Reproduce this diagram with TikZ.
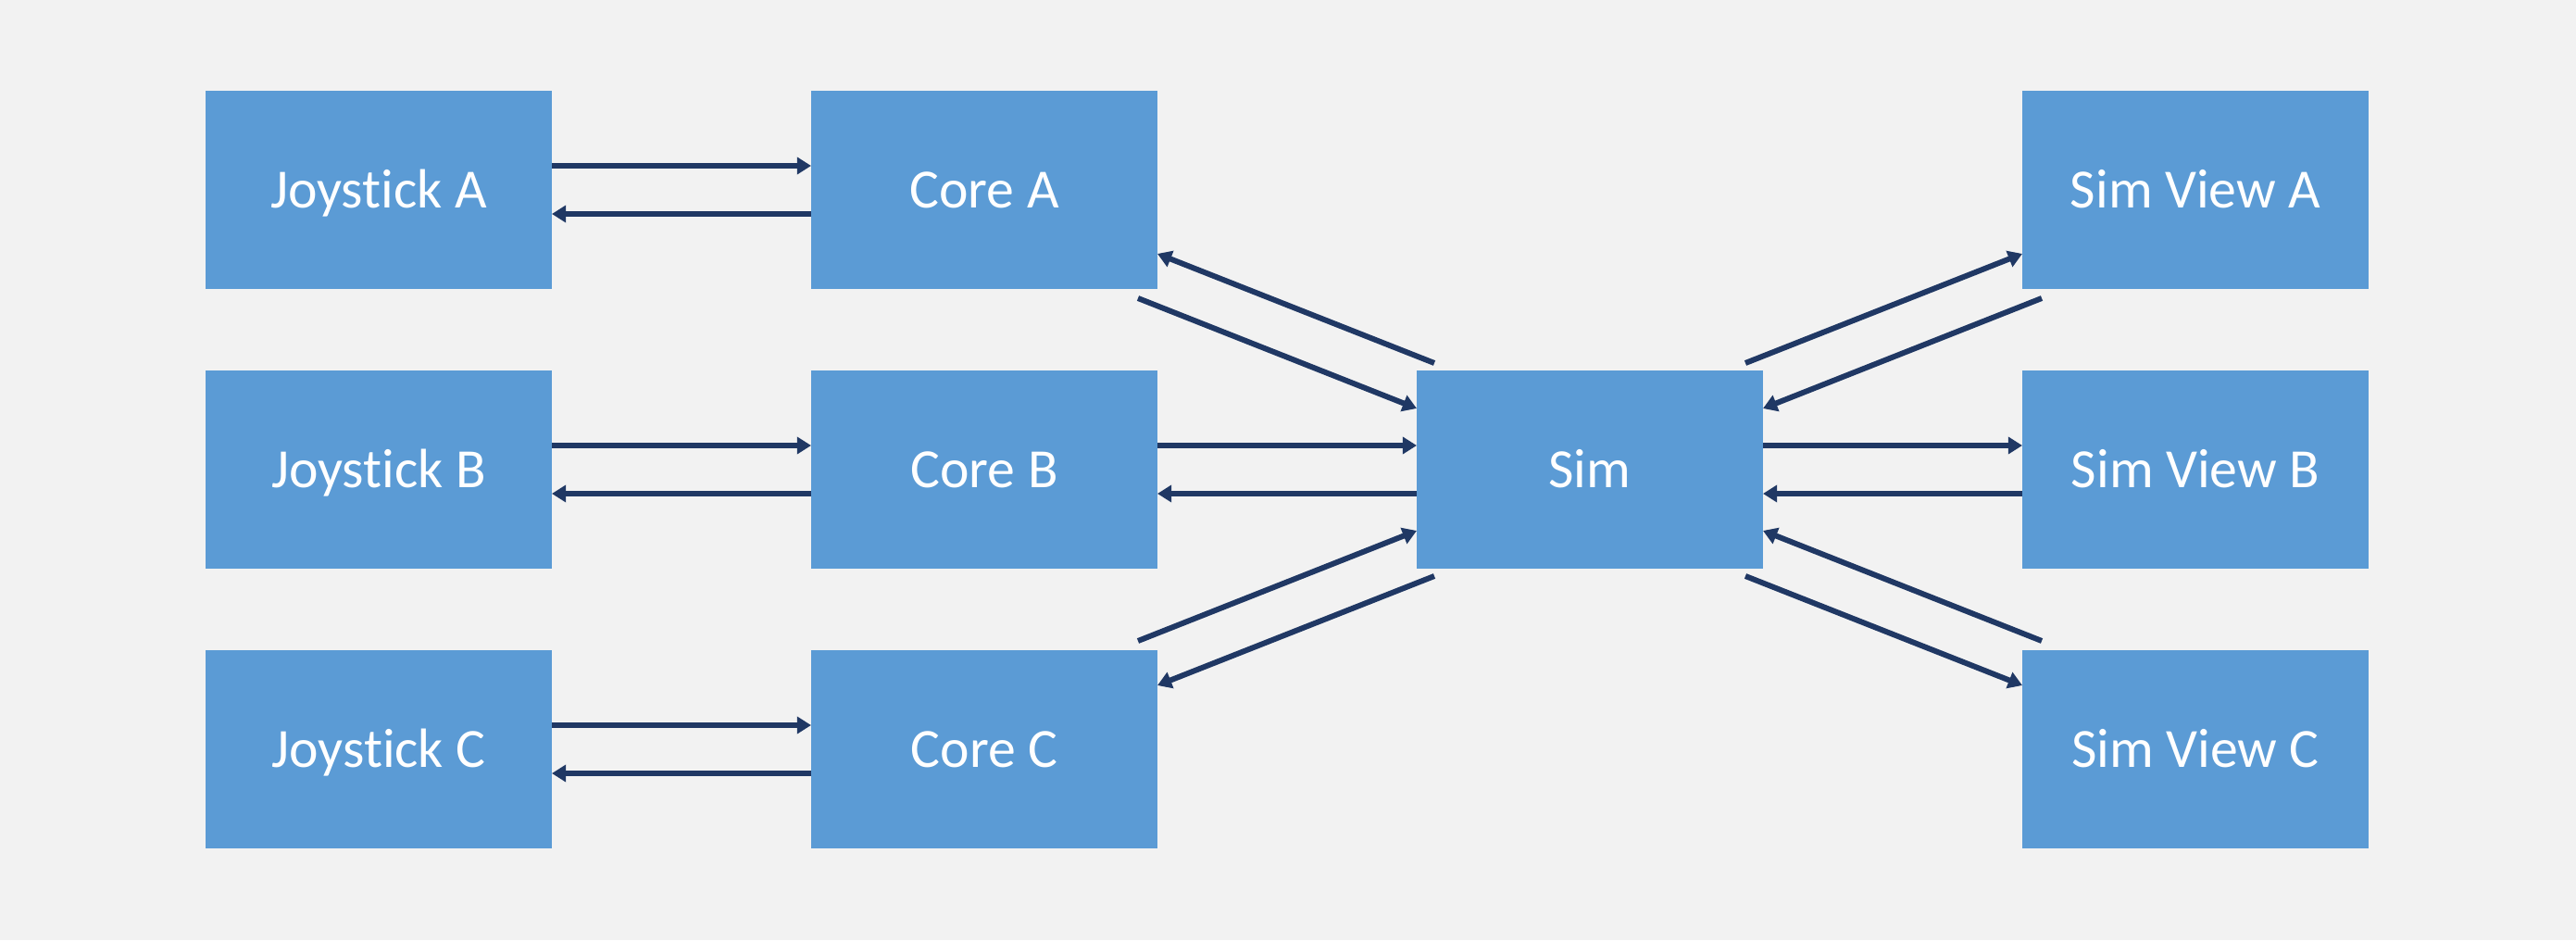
\documentclass[tikz,border=0pt]{standalone}
\usepackage{xcolor}
\usepackage{fontspec}
\setmainfont{Carlito}[Ligatures=NoCommon]
\usepackage{tikz}
\usetikzlibrary{positioning}
\usetikzlibrary{arrows.meta}
\definecolor{boxblue}{HTML}{5B9BD5}
\definecolor{linkblue}{HTML}{203864}
\definecolor{bggrey}{HTML}{F2F2F2}

\begin{document}
\begin{tikzpicture}[-,auto,node distance=0.88cm and 2.80cm,main node/.style={rectangle, fill=boxblue, text=white, minimum width=3.74cm, minimum height=2.14cm, inner sep=0pt, outer sep=0pt, text height=11pt, text depth=0pt, font=\fontsize{17}{20}\selectfont},link/.style={draw=linkblue, line width=1.7pt, -{Triangle[length=4.3pt,width=5.1pt]}}]
			% Background
			\fill[bggrey] (0,0) rectangle (27.82,10.15);
			
			% Nodes
			\node[main node] (joyA) at (4.09,8.10) {Joystick A};
			\node[main node] (joyB) [below=of joyA] {Joystick B};
			\node[main node] (joyC) [below=of joyB] {Joystick C};
			\node[main node] (coreA) [right=of joyA] {Core A};
			\node[main node] (coreB) [right=of joyB] {Core B};
			\node[main node] (coreC) [right=of joyC] {Core C};
			\node[main node] (sim) [right=of coreB] {Sim};
			\node[main node] (viewB) [right=of sim] {Sim View B};
			\node[main node] (viewA) [above=of viewB] {Sim View A};
			\node[main node] (viewC) [below=of viewB] {Sim View C};
			
			
			
			\path[every edge/.style={link}]
			([yshift=0.26cm]joyA.east) edge ([yshift=0.26cm]coreA.west)
			([yshift=-0.26cm]coreA.west) edge ([yshift=-0.26cm]joyA.east)
			([yshift=0.26cm]joyB.east) edge ([yshift=0.26cm]coreB.west)
			([yshift=-0.26cm]coreB.west) edge ([yshift=-0.26cm]joyB.east)
			([yshift=0.26cm]joyC.east) edge ([yshift=0.26cm]coreC.west)
			([yshift=-0.26cm]coreC.west) edge ([yshift=-0.26cm]joyC.east)
			
			([yshift=0.26cm]coreB.east) edge ([yshift=0.26cm]sim.west)
			([yshift=-0.26cm]sim.west) edge ([yshift=-0.26cm]coreB.east)
			([yshift=0.26cm]sim.east) edge ([yshift=0.26cm]viewB.west)
			([yshift=-0.26cm]viewB.west) edge ([yshift=-0.26cm]sim.east)
			
			([xshift=-0.21cm,yshift=-0.10cm]coreA.south east) edge ([yshift=0.66cm]sim.west)
			([xshift=0.19cm,yshift=0.08cm]sim.north west) edge ([yshift=-0.69cm]coreA.east)
			([xshift=-0.21cm,yshift=0.10cm]coreC.north east) edge ([yshift=-0.66cm]sim.west)
			([xshift=0.19cm,yshift=-0.08cm]sim.south west) edge ([yshift=0.69cm]coreC.east)
			
			([xshift=-0.19cm,yshift=0.08cm]sim.north east) edge ([yshift=-0.69cm]viewA.west)
			([xshift=0.21cm,yshift=-0.10cm]viewA.south west) edge ([yshift=0.66cm]sim.east)
			([xshift=-0.19cm,yshift=-0.08cm]sim.south east) edge ([yshift=0.69cm]viewC.west)
			([xshift=0.21cm,yshift=0.10cm]viewC.north west) edge ([yshift=-0.66cm]sim.east);
			
		\end{tikzpicture}
\end{document}
